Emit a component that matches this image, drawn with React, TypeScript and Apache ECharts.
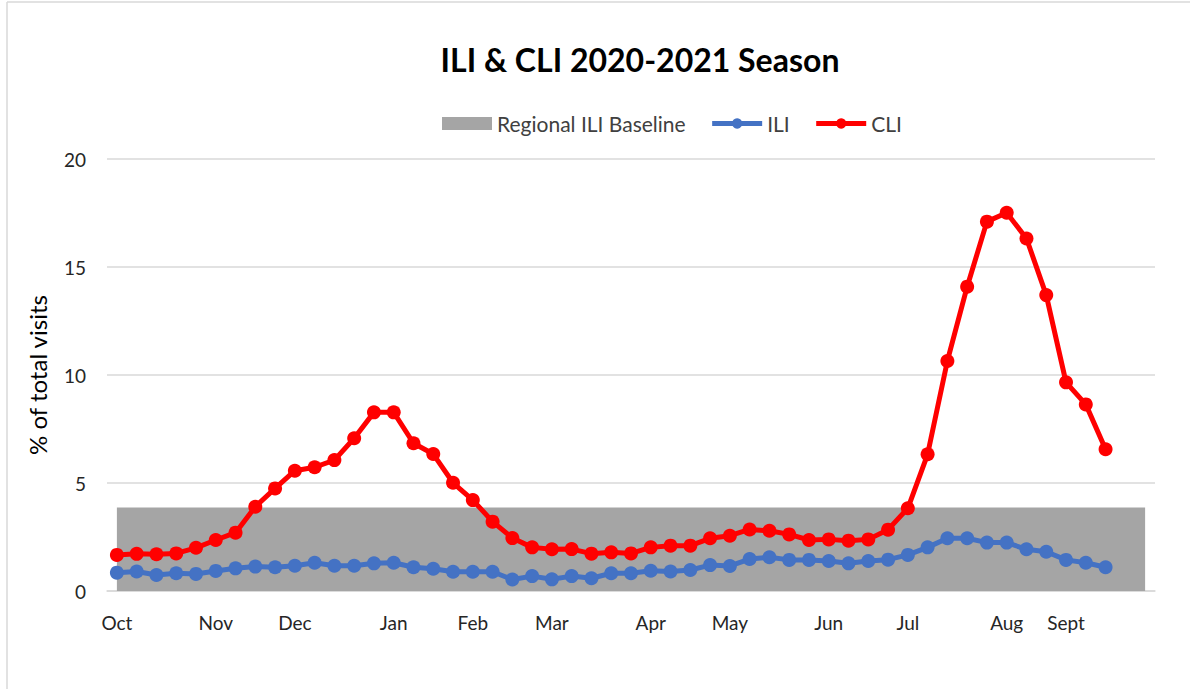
import React, { useEffect, useRef } from "react";
import * as echarts from "echarts";

const monthNames = ["Oct", "Nov", "Dec", "Jan", "Feb", "Mar", "Apr", "May", "Jun", "Jul", "Aug", "Sept"];
const monthWeekIndex = [0, 5, 9, 14, 18, 22, 27, 31, 36, 40, 45, 48];
const weekCount = 53;

const cliValues = [
  1.67, 1.72, 1.7, 1.74, 2.0, 2.36, 2.7, 3.9, 4.75, 5.57, 5.73, 6.06, 7.07, 8.27, 8.27, 6.84, 6.34, 5.01, 4.21, 3.21,
  2.45, 2.02, 1.93, 1.94, 1.73, 1.79, 1.74, 2.02, 2.1, 2.1, 2.44, 2.56, 2.85, 2.79, 2.62, 2.36, 2.39, 2.33, 2.39, 2.84,
  3.83, 6.33, 10.65, 14.09, 17.1, 17.51, 16.32, 13.7, 9.66, 8.64, 6.56,
];

const iliValues = [
  0.85, 0.9, 0.74, 0.82, 0.79, 0.93, 1.05, 1.13, 1.1, 1.17, 1.31, 1.17, 1.17, 1.28, 1.31, 1.1, 1.03, 0.89, 0.89, 0.89,
  0.53, 0.69, 0.54, 0.69, 0.59, 0.82, 0.82, 0.94, 0.9, 0.97, 1.2, 1.16, 1.48, 1.56, 1.44, 1.44, 1.39, 1.28, 1.39, 1.45,
  1.67, 2.02, 2.44, 2.44, 2.24, 2.24, 1.93, 1.82, 1.44, 1.31, 1.1,
];

const baselineValue = 3.87;
const baselineValues = new Array(weekCount).fill(baselineValue);

const yTicks = [0, 5, 10, 15, 20];

const FONT = "Lato, 'Open Sans', sans-serif";

export default function App() {
  const ref = useRef<HTMLDivElement>(null);

  useEffect(() => {
    if (!ref.current) return;
    const chart = echarts.init(ref.current, undefined, { renderer: "svg" });
    const categories: string[] = [];
    for (let i = 0; i < weekCount; i++) {
      const k = monthWeekIndex.indexOf(i);
      categories.push(k >= 0 ? monthNames[k] : "");
    }
    chart.setOption({
      animation: false,
      backgroundColor: "#ffffff",
      textStyle: { fontFamily: FONT },
      title: {
        text: "ILI & CLI 2020-2021 Season",
        left: 635,
        textAlign: "center",
        top: 38,
        textStyle: { fontFamily: FONT, fontWeight: "bold", fontSize: 32, color: "#000000" },
      },
      legend: {
        left: 437,
        top: 108,
        itemWidth: 50,
        itemHeight: 13,
        itemGap: 24,
        lineStyle: { width: 5 },
        textStyle: { fontFamily: FONT, fontSize: 21, color: "#404040" },
        data: [
          { name: "Regional ILI Baseline", icon: "rect" },
          { name: "ILI" },
          { name: "CLI" },
        ],
      },
      grid: { left: 107, right: 35, top: 159, bottom: 98, containLabel: false },
      xAxis: {
        type: "category",
        data: categories,
        boundaryGap: true,
        axisLine: { show: true, lineStyle: { color: "#D9D9D9", width: 1.5 } },
        axisTick: { show: false },
        axisLabel: {
          interval: 0,
          margin: 22,
          fontSize: 19,
          color: "#262626",
          fontFamily: FONT,
        },
        splitLine: { show: false },
      },
      yAxis: {
        type: "value",
        min: yTicks[0],
        max: yTicks[yTicks.length - 1],
        interval: 5,
        name: "% of total visits",
        nameLocation: "middle",
        nameGap: 58,
        nameTextStyle: { fontSize: 24, color: "#000000", fontFamily: FONT },
        axisLine: { show: false },
        axisTick: { show: false },
        axisLabel: { margin: 21, fontSize: 19, color: "#262626", fontFamily: FONT },
        splitLine: { show: true, lineStyle: { color: "#D9D9D9", width: 1.5 } },
      },
      series: [
        {
          name: "Regional ILI Baseline",
          type: "line",
          data: baselineValues,
          color: "#A5A5A5",
          itemStyle: { color: "#A5A5A5" },
          lineStyle: { width: 0, opacity: 0 },
          areaStyle: { color: "#A5A5A5", opacity: 1 },
          showSymbol: false,
          symbol: "none",
          z: 1,
          silent: true,
        },
        {
          name: "ILI",
          type: "line",
          data: iliValues,
          color: "#4472C4",
          itemStyle: { color: "#4472C4" },
          lineStyle: { width: 5, color: "#4472C4" },
          symbol: "circle",
          symbolSize: 14,
          showSymbol: true,
          z: 3,
        },
        {
          name: "CLI",
          type: "line",
          data: cliValues,
          color: "#FF0000",
          itemStyle: { color: "#FF0000" },
          lineStyle: { width: 5, color: "#FF0000" },
          symbol: "circle",
          symbolSize: 14,
          showSymbol: true,
          z: 4,
        },
      ],
      graphic: [
        { type: "line", shape: { x1: 7, y1: 2, x2: 1190, y2: 2 }, style: { stroke: "#D9D9D9", lineWidth: 1.5 } },
        { type: "line", shape: { x1: 7, y1: 2, x2: 7, y2: 689 }, style: { stroke: "#D9D9D9", lineWidth: 1.5 } },
      ],
    });
    return () => chart.dispose();
  }, []);

  return (
    <div
      ref={ref}
      style={{ position: "fixed", left: 0, top: 0, width: 1190, height: 689, background: "#fff" }}
    />
  );
}
